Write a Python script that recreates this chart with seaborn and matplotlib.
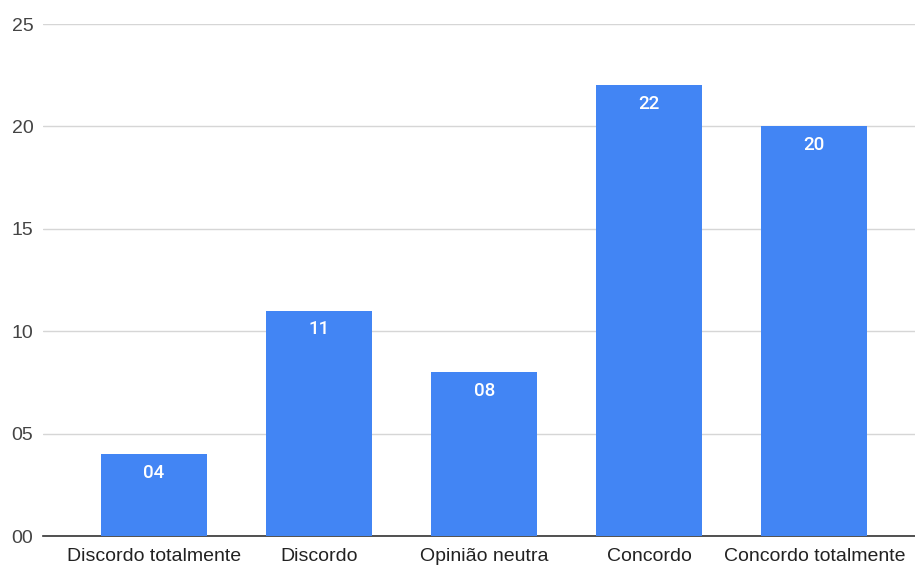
import pandas as pd
import seaborn as sns
import matplotlib.pyplot as plt

categorias = ['Discordo totalmente', 'Discordo', 'Opinião neutra', 'Concordo', 'Concordo totalmente']
respostas = [4, 11, 8, 22, 20]
yticks = [0, 5, 10, 15, 20, 25]

df = pd.DataFrame({'categoria': categorias, 'respostas': respostas})

sns.set_style("white")
plt.rcParams['font.family'] = ['Liberation Sans', 'DejaVu Sans']

fig = plt.figure(figsize=(9.15, 5.65), dpi=100)
ax = fig.add_axes([0.047, 0.0513, 0.953, 0.9062])

sns.barplot(data=df, x='categoria', y='respostas', order=categorias,
            color='#4285F4', saturation=1, width=0.64, linewidth=0,
            ax=ax, zorder=3)

ax.set_ylim(0, 25)
ax.set_xlim(-0.673, 4.61)
ax.set_yticks(yticks)
ax.set_yticklabels([f'{v:02d}' for v in yticks])
ax.yaxis.grid(True, color='#d6d6d6', linewidth=1, zorder=0)
ax.tick_params(axis='y', length=0, pad=7, labelsize=14, labelcolor='#444444')
ax.tick_params(axis='x', length=0, pad=8.5, labelsize=14, labelcolor='#222222')
ax.set_xlabel('')
ax.set_ylabel('')
sns.despine(ax=ax, left=True, top=True, right=True)
ax.spines['bottom'].set_color('#333333')
ax.spines['bottom'].set_linewidth(1.2)

for i, v in enumerate(respostas):
    ax.text(i, v - 0.9, f'{v:02d}', ha='center', va='center', color='white',
            fontsize=13.5, fontweight='medium', family=['Roboto', 'DejaVu Sans'], zorder=4)

fig.savefig('out.png', dpi=100)
